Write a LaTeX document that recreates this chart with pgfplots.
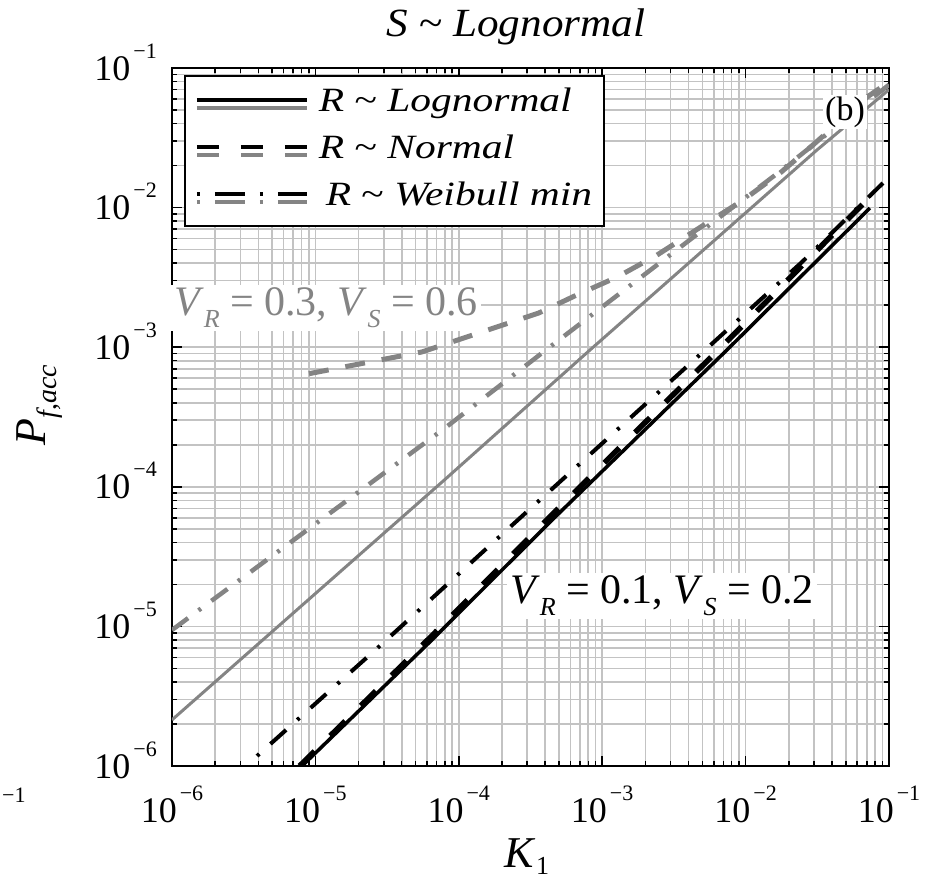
\documentclass[border=0pt]{standalone}
\usepackage{pgfplots}
\pgfplotsset{compat=1.18}
\usepackage{fontspec}
\setmainfont{Liberation Serif}
\definecolor{lg}{RGB}{132,132,132}
\definecolor{gridc}{RGB}{195,195,195}
\newcommand{\fs}[1]{\fontsize{#1}{#1}\selectfont}
\newcommand{\expo}[1]{\hspace{3pt}\raisebox{22pt}{\fs{22}−#1}}
\newcommand{\tl}[1]{10\expo{#1}}
\newcommand{\sub}[1]{\raisebox{-12pt}{\fs{26}\textit{#1}}}
\newcommand{\lt}[1]{\scalebox{1.22}[1]{#1}}
\begin{document}
\begin{tikzpicture}
\useasboundingbox (-172pt,-115pt) rectangle (759pt,766pt);
\begin{axis}[
  at={(0pt,0pt)}, anchor=south west,
  width=717pt, height=698pt, scale only axis,
  xmode=log, ymode=log,
  xmin=1e-6, xmax=1e-1, ymin=1e-6, ymax=1e-1,
  xtick={1e-6,1e-5,1e-4,1e-3,1e-2,1e-1},
  ytick={1e-6,1e-5,1e-4,1e-3,1e-2,1e-1},
  xticklabels={\tl{6},\tl{5},\tl{4},\tl{3},\tl{2},\tl{1}},
  yticklabels={\tl{6},\tl{5},\tl{4},\tl{3},\tl{2},\tl{1}},
  minor xtick={2e-6,3e-6,4e-6,5e-6,6e-6,7e-6,8e-6,9e-6,2e-5,3e-5,4e-5,5e-5,6e-5,7e-5,8e-5,9e-5,2e-4,3e-4,4e-4,5e-4,6e-4,7e-4,8e-4,9e-4,2e-3,3e-3,4e-3,5e-3,6e-3,7e-3,8e-3,9e-3,2e-2,3e-2,4e-2,5e-2,6e-2,7e-2,8e-2,9e-2},
  minor ytick={2e-6,3e-6,4e-6,5e-6,6e-6,7e-6,8e-6,9e-6,2e-5,3e-5,4e-5,5e-5,6e-5,7e-5,8e-5,9e-5,2e-4,3e-4,4e-4,5e-4,6e-4,7e-4,8e-4,9e-4,2e-3,3e-3,4e-3,5e-3,6e-3,7e-3,8e-3,9e-3,2e-2,3e-2,4e-2,5e-2,6e-2,7e-2,8e-2,9e-2},
  xticklabel style={font=\fs{36}, inner sep=0pt, anchor=base, yshift=-56pt},
  yticklabel style={font=\fs{36}, inner sep=0pt, anchor=base east, xshift=-15pt, yshift=-12pt},
  grid=both,
  major grid style={draw=gridc, line width=1.6pt},
  minor grid style={draw=gridc, line width=1.6pt},
  axis line style={line width=2.5pt},
  major tick length=10pt, minor tick length=5pt,
  every tick/.style={black, line width=1.5pt},
  legend style={at={(0.0167,0.99)}, anchor=north west, draw=black, line width=1.8pt,
     fill=white, font=\fs{34}, inner xsep=10pt, inner ysep=10pt,
     nodes={inner sep=2pt, text height=24pt, text depth=8pt},
     row sep=11pt, /tikz/every odd column/.style={column sep=8pt}},
  legend cell align=left,
]
% gray: V_R=0.3, V_S=0.6
\addplot[forget plot, lg, line width=3pt] coordinates {
 (1e-6,2.14e-6) (7.94e-5,1.12e-4) (8.22e-4,9.55e-4) (3.15e-2,2.59e-2) (1e-1,7.0e-2)};
\addplot[forget plot, lg, line width=5pt, dash pattern=on 20pt off 17pt] coordinates {
 (9.02e-6,6.46e-4) (5.53e-5,9.25e-4) (3.62e-4,1.76e-3) (6.67e-4,2.37e-3) (1.27e-3,3.18e-3)
 (2.41e-3,4.57e-3) (5.38e-3,7.76e-3) (9.59e-3,1.13e-2) (1.74e-2,1.77e-2) (2.95e-2,2.81e-2)
 (7.03e-2,6.19e-2) (1e-1,7.94e-2)};
\addplot[forget plot, lg, line width=4.5pt, dash pattern=on 20pt off 13pt on 3pt off 13pt] coordinates {
 (1e-6,9.42e-6) (8.02e-5,2.64e-4) (3.80e-4,9.08e-4) (4.81e-3,6.68e-3) (1.68e-2,1.77e-2) (1e-1,7.59e-2)};
% black: V_R=0.1, V_S=0.2
\addplot[forget plot, black, line width=3.5pt] coordinates {
 (8.07e-6,1e-6) (6.50e-5,8.0e-6) (4.47e-4,5.78e-5) (7.41e-3,9.55e-4) (7.36e-2,9.93e-3)};
\addplot[forget plot, black, line width=5.5pt, dash pattern=on 21pt off 22pt] coordinates {
 (7.76e-6,1e-6) (6.31e-5,8.32e-6) (4.47e-4,6.31e-5) (7.41e-3,1.10e-3) (7.59e-2,1.23e-2)};
\addplot[forget plot, black, line width=4pt, dash pattern=on 3pt off 15pt on 21pt off 15pt] coordinates {
 (3.92e-6,1.18e-6) (2.96e-5,7.60e-6) (2.23e-4,5.05e-5) (6.43e-3,1.16e-3) (2.47e-2,4.07e-3) (9.08e-2,1.50e-2)};
% legend
\addlegendimage{legend image code/.code={
  \draw[black, line width=4pt] (0pt,3.75pt) -- (110pt,3.75pt);
  \draw[lg, line width=4pt] (0pt,-3.75pt) -- (110pt,-3.75pt);}}
\addlegendentry{\lt{\textit{R} \textasciitilde\ \textit{Lognormal}}}
\addlegendimage{legend image code/.code={
  \draw[black, line width=4pt, dash pattern=on 22pt off 22pt] (0pt,3.75pt) -- (110pt,3.75pt);
  \draw[lg, line width=4pt, dash pattern=on 22pt off 22pt] (0pt,-3.75pt) -- (110pt,-3.75pt);}}
\addlegendentry{\lt{\textit{R} \textasciitilde\ \textit{Normal}}}
\addlegendimage{legend image code/.code={
  \draw[black, line width=4pt, dash pattern=on 3pt off 15pt on 30pt off 15pt] (0pt,3.75pt) -- (110pt,3.75pt);
  \draw[lg, line width=4pt, dash pattern=on 3pt off 15pt on 30pt off 15pt] (0pt,-3.75pt) -- (110pt,-3.75pt);}}
\addlegendentry{\lt{\,\textit{R} \textasciitilde\ \textit{Weibull min}}}
\end{axis}
% annotations
\node[fill=white, inner sep=3pt, text=lg, font=\fs{42}] at (154pt,458pt)
  {\textit{V}\sub{R} = 0.3, \textit{V}\sub{S} = 0.6};
\node[fill=white, inner sep=3pt, text=black, font=\fs{42}] at (490pt,170pt)
  {\textit{V}\sub{R} = 0.1, \textit{V}\sub{S} = 0.2};
\node[fill=white, inner sep=2pt, font=\fs{34}] at (673pt,654pt) {(b)};
\node[font=\fs{40}] at (344pt,739pt) {\scalebox{1.08}[1]{\textit{S} \textasciitilde\ \textit{Lognormal}}};
\node[font=\fs{44}] at (355pt,-91pt) {\textit{K}\raisebox{-7pt}{\fs{26}1}};
\node[font=\fs{44}, rotate=90] at (-132pt,361pt) {\textit{P}\raisebox{-11pt}{\fs{28}\textit{f},\textit{acc}}};
\node[font=\fs{22}, anchor=base west, inner sep=0pt] at (-170pt,-36pt) {−1};
\end{tikzpicture}
\end{document}
